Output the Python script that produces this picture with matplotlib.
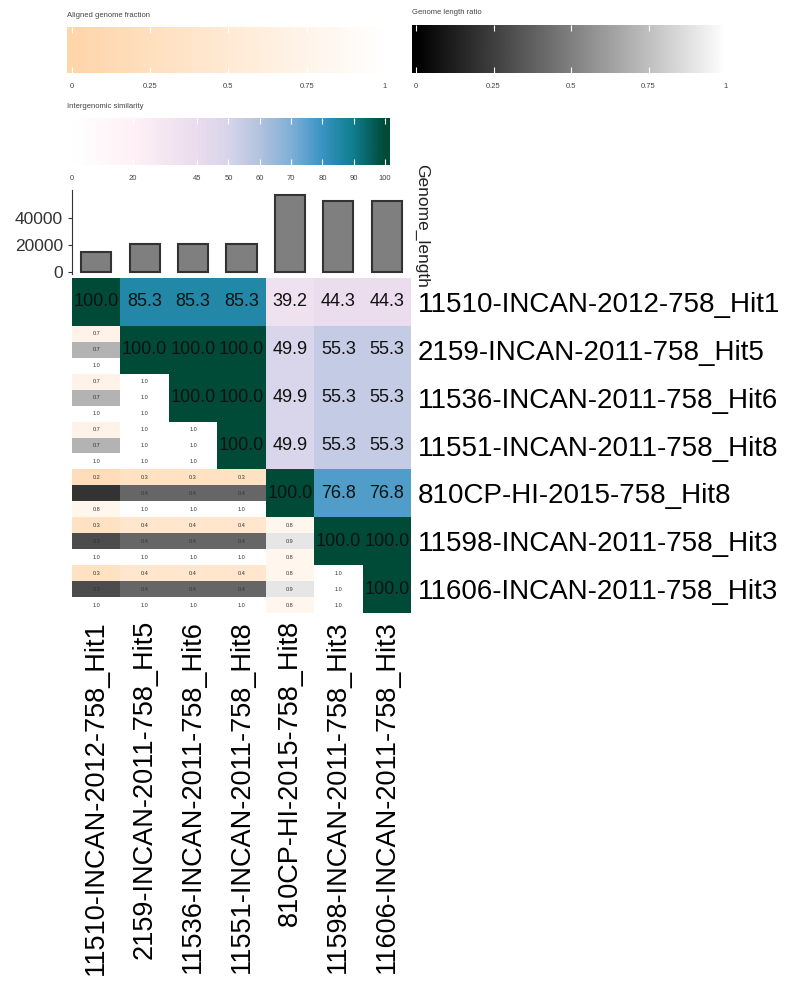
import numpy as np
import matplotlib.pyplot as plt
from matplotlib.colors import LinearSegmentedColormap

genomes = [
    "11510-INCAN-2012-758_Hit1",
    "2159-INCAN-2011-758_Hit5",
    "11536-INCAN-2011-758_Hit6",
    "11551-INCAN-2011-758_Hit8",
    "810CP-HI-2015-758_Hit8",
    "11598-INCAN-2011-758_Hit3",
    "11606-INCAN-2011-758_Hit3",
]
genome_length = [14600, 20800, 20800, 20800, 57400, 53200, 53200]

# intergenomic similarity, upper triangle (row i, columns i..6)
similarity = [
    [100.0, 85.3, 85.3, 85.3, 39.2, 44.3, 44.3],
    [100.0, 100.0, 100.0, 49.9, 55.3, 55.3],
    [100.0, 100.0, 49.9, 55.3, 55.3],
    [100.0, 49.9, 55.3, 55.3],
    [100.0, 76.8, 76.8],
    [100.0, 100.0],
    [100.0],
]
# lower triangle (row i, columns 0..i-1)
fraction_top = [
    [],
    [0.7],
    [0.7, 1.0],
    [0.7, 1.0, 1.0],
    [0.2, 0.3, 0.3, 0.3],
    [0.3, 0.4, 0.4, 0.4, 0.8],
    [0.3, 0.4, 0.4, 0.4, 0.8, 1.0],
]
length_ratio = [
    [],
    [0.7],
    [0.7, 1.0],
    [0.7, 1.0, 1.0],
    [0.2, 0.4, 0.4, 0.4],
    [0.3, 0.4, 0.4, 0.4, 0.9],
    [0.3, 0.4, 0.4, 0.4, 0.9, 1.0],
]
fraction_bottom = [
    [],
    [1.0],
    [1.0, 1.0],
    [1.0, 1.0, 1.0],
    [0.8, 1.0, 1.0, 1.0],
    [1.0, 1.0, 1.0, 1.0, 0.8],
    [1.0, 1.0, 1.0, 1.0, 0.8, 1.0],
]

sim_ticks = [0, 20, 45, 50, 60, 70, 80, 90, 100]
sim_tick_pos = [0, 0.195, 0.4, 0.5, 0.6, 0.7, 0.8, 0.9, 1.0]
sim_colors = ["#ffffff", "#fff1f6", "#ebdcee", "#d8d5ea", "#b3c3df",
              "#80b0d6", "#3a94c4", "#107e90", "#004b38"]

plt.rcParams["font.family"] = ["Liberation Sans", "DejaVu Sans"]

sim_cmap = LinearSegmentedColormap.from_list(
    "sim", list(zip(np.array(sim_ticks) / 100, sim_colors)))
frac_cmap = LinearSegmentedColormap.from_list("frac", ["#ffd5aa", "#ffffff"])
gray_cmap = LinearSegmentedColormap.from_list("len", ["#000000", "#ffffff"])

W, H = 785, 986
fig = plt.figure(figsize=(W / 100, H / 100), dpi=100)


def px_axes(x0, y0, x1, y1):
    return fig.add_axes([x0 / W, 1 - y1 / H, (x1 - x0) / W, (y1 - y0) / H])


n = len(genomes)

# ---- heatmap
ax = px_axes(72, 278, 411, 613)
sim = np.full((n, n), np.nan)
for i, row in enumerate(similarity):
    sim[i, i:] = row
ax.pcolormesh(np.arange(n + 1), np.arange(n + 1), np.ma.masked_invalid(sim),
              cmap=sim_cmap, vmin=0, vmax=100)
for i, row in enumerate(similarity):
    for k, v in enumerate(row):
        ax.text(i + k + 0.5, i + 0.5, f"{v:.1f}", ha="center", va="center",
                fontsize=13, color="#111111")

frac = np.full((3 * n, n), np.nan)
ratio = np.full((3 * n, n), np.nan)
for i in range(n):
    for j in range(i):
        frac[3 * i, j] = fraction_top[i][j]
        ratio[3 * i + 1, j] = length_ratio[i][j]
        frac[3 * i + 2, j] = fraction_bottom[i][j]
yb = np.arange(3 * n + 1) / 3
ax.pcolormesh(np.arange(n + 1), yb, np.ma.masked_invalid(frac),
              cmap=frac_cmap, vmin=0, vmax=1)
ax.pcolormesh(np.arange(n + 1), yb, np.ma.masked_invalid(ratio),
              cmap=gray_cmap, vmin=0, vmax=1)
for i in range(n):
    for j in range(i):
        for s, v in enumerate([fraction_top[i][j], length_ratio[i][j], fraction_bottom[i][j]]):
            ax.text(j + 0.5, i + (s + 0.5) / 3, f"{v:.1f}", ha="center", va="center",
                    fontsize=4, color="#333333")

ax.set_xlim(0, n)
ax.set_ylim(n, 0)
for sp in ax.spines.values():
    sp.set_visible(False)
ax.yaxis.tick_right()
ax.set_yticks(np.arange(n) + 0.5)
ax.set_yticklabels(genomes, fontsize=20)
ax.set_xticks(np.arange(n) + 0.5)
ax.set_xticklabels(genomes, fontsize=19.5, rotation=90)
ax.tick_params(length=0, pad=5)

# ---- genome length bars
axb = px_axes(72, 190, 411, 274)
axb.bar(np.arange(n) + 0.5, genome_length, width=0.62, color="#7f7f7f",
        edgecolor="#333333", linewidth=1.5)
axb.set_xlim(0, n)
axb.set_ylim(-1720, 61200)
axb.set_xticks([])
axb.set_yticks([0, 20000, 40000])
axb.tick_params(axis="y", labelsize=12.5, length=3, colors="#333333")
for s in ["top", "right", "bottom"]:
    axb.spines[s].set_visible(False)
axb.spines["left"].set_color("#333333")
axb.text(1.008, 0.57, "Genome_length", rotation=270, transform=axb.transAxes,
         ha="left", va="center", fontsize=12.5, color="#222222")

# ---- legends
def legend_bar(x0, y0, x1, y1, x_zero, x_one, title, cmap_vals, tick_pos, labels):
    axl = px_axes(x0, y0, x1, y1)
    w = x_one - x_zero
    lo = (x0 - x_zero) / w
    hi = (x1 - x_zero) / w
    p = np.linspace(lo, hi, 400)
    axl.imshow(cmap_vals(np.clip(p, 0, 1))[None, :, :], aspect="auto",
               extent=[lo, hi, 0, 1])
    axl.set_xlim(lo, hi)
    axl.set_ylim(0, 1)
    axl.set_yticks([])
    axl.set_xticks(tick_pos)
    axl.set_xticklabels(labels)
    axl.tick_params(axis="x", direction="in", length=4, color="white", top=True,
                    labelsize=5.5, labelcolor="#444444", pad=7)
    for sp in axl.spines.values():
        sp.set_visible(False)
    axl.text(0, 1.18, title, transform=axl.transAxes, fontsize=5.5,
             color="#444444", ha="left", va="bottom")
    return axl


legend_bar(67, 27, 388, 73, 72, 385, "Aligned genome fraction",
           lambda p: frac_cmap(p), [0, 0.25, 0.5, 0.75, 1],
           ["0", "0.25", "0.5", "0.75", "1"])
legend_bar(412, 25, 730, 73, 416, 726, "Genome length ratio",
           lambda p: gray_cmap(p), [0, 0.25, 0.5, 0.75, 1],
           ["0", "0.25", "0.5", "0.75", "1"])
legend_bar(67, 118, 390, 165, 72, 385, "Intergenomic similarity",
           lambda p: sim_cmap(np.interp(p, sim_tick_pos, sim_ticks) / 100),
           sim_tick_pos, [str(t) for t in sim_ticks])

fig.savefig("out.png", dpi=100)
